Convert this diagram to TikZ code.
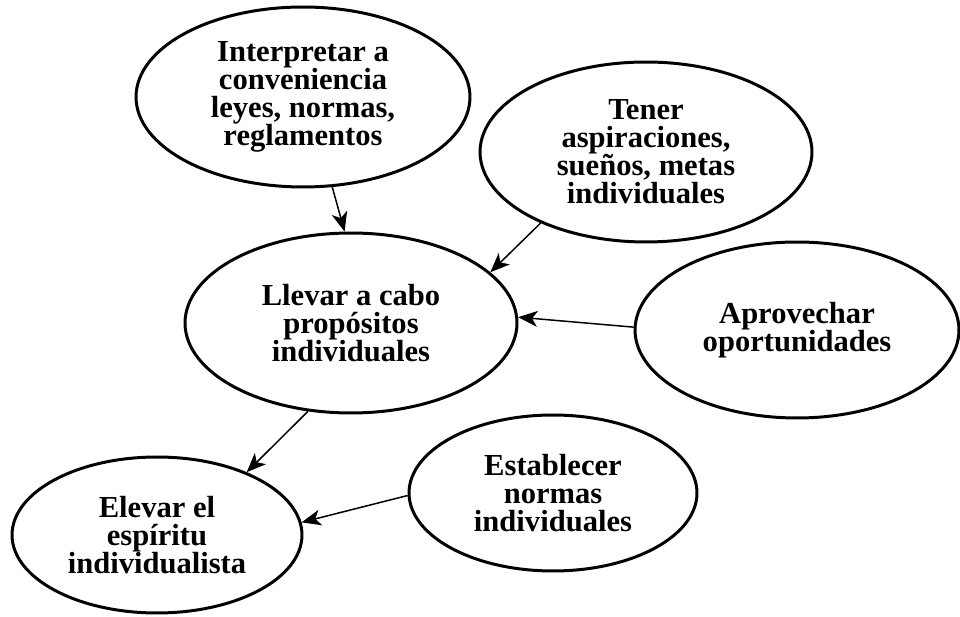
\documentclass[tikz,border=0pt]{standalone}
\usepackage{fontspec}
\setmainfont{Liberation Serif}
\usetikzlibrary{shapes.geometric, arrows.meta}
\tikzstyle{idea} = [
    ellipse,
    draw = black,
    line width = 1.7pt,
    inner sep = 0pt,
    align = center,
    font = \fontsize{17.4}{16}\selectfont\bfseries,
]
\tikzstyle{flecha} = [
    -{Stealth[length = 11pt, width = 9pt, inset = 3pt]},
    line width = 0.85pt,
]

\begin{document}
\begin{tikzpicture} [x = 0.02cm, y = -0.02cm]
    \useasboundingbox (0, 0) rectangle (960, 617);

    \node (Interpretar) [idea, minimum width = 6.68cm, minimum height = 3.6cm] at (303, 97) {Interpretar a\\conveniencia\\leyes, normas,\\reglamentos};
    \node (Tener) [idea, minimum width = 6.64cm, minimum height = 3.6cm] at (646, 152) {Tener\\aspiraciones,\\sueños, metas\\individuales};
    \node (Llevar) [idea, minimum width = 6.64cm, minimum height = 3.6cm] at (351, 323) {Llevar a cabo\\propósitos\\individuales};
    \node (Aprovechar) [idea, minimum width = 6.48cm, minimum height = 3.52cm] at (797, 330) {Aprovechar\\oportunidades};
    \node (Establecer) [idea, minimum width = 5.76cm, minimum height = 3.12cm] at (553, 493) {Establecer\\normas\\individuales};
    \node (Elevar) [idea, minimum width = 5.8cm, minimum height = 3.12cm] at (157, 535) {Elevar el\\espíritu\\individualista};

    \draw[flecha] (Interpretar.-72) -- (Llevar.94);
    \draw[flecha] (Tener.-146) -- (Llevar.20);
    \draw[flecha] (Aprovechar.179) -- (Llevar.2);
    \draw[flecha] (Llevar.-116) -- (Elevar.35);
    \draw[flecha] (Establecer.-179) -- (Elevar.5);
\end{tikzpicture}
\end{document}
